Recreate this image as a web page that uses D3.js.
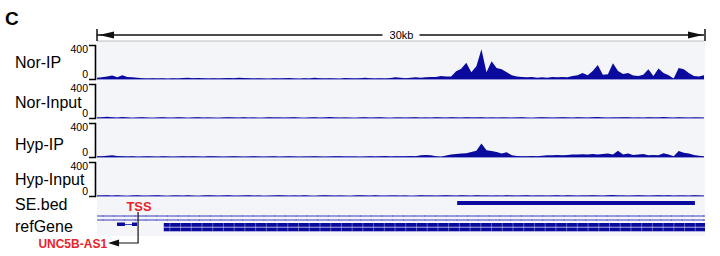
<!DOCTYPE html>
<html>
<head>
<meta charset="utf-8">
<script src="https://cdn.jsdelivr.net/npm/d3@7"></script>
<style>
body { margin: 0; background: #fff; }
text { font-family: Arial, "Liberation Sans", sans-serif; }
</style>
</head>
<body>
<svg width="720" height="256"></svg>
<script>
// region shown, in kb
const regionKb = 30;
const trackNames = ['Nor-IP', 'Nor-Input', 'Hyp-IP', 'Hyp-Input'];
const yTicks = [0, 400];

// coverage, one value per 0.25 kb bin (121 bins)
const norIP = [
  15,20,30,40,20,45,25,20,15,8,
  5,10,5,8,4,10,6,12,15,10,
  12,8,5,10,6,8,12,8,15,12,
  10,6,8,5,4,10,6,8,12,6,
  4,8,6,15,8,5,10,6,4,12,
  8,6,10,15,8,5,8,6,12,20,
  15,10,15,20,15,20,25,25,35,30,
  30,90,120,190,80,150,350,80,210,130,
  115,80,45,30,25,20,25,15,20,15,
  25,20,25,20,35,45,70,45,95,165,
  50,55,185,95,60,70,40,35,50,115,
  35,125,70,45,5,130,115,70,35,30,
  45
];
const norInput = [
  6,8,14,10,4,12,6,0,5,8,
  3,0,6,10,4,2,8,5,0,6,
  9,4,7,3,0,5,10,6,4,8,
  3,6,0,4,9,5,7,2,6,10,
  4,0,5,8,3,6,12,5,2,7,
  4,0,6,9,3,5,8,4,0,6,
  7,3,5,10,4,6,2,8,5,3,
  9,6,4,10,7,5,8,4,6,3,
  7,5,2,6,9,4,0,5,8,6,
  3,7,10,5,4,8,6,3,9,12,
  6,4,7,5,10,8,4,6,3,9,
  7,5,12,6,4,8,5,3,7,6,
  4
];
const hypIP = [
  8,10,15,22,12,10,6,8,4,6,
  10,5,3,8,6,4,7,10,5,8,
  6,4,8,10,6,3,5,8,6,4,
  7,10,5,3,6,8,4,5,9,6,
  4,7,5,8,6,3,5,8,10,6,
  5,7,4,6,9,5,8,12,6,10,
  10,8,12,10,22,25,20,8,4,18,
  28,35,42,45,60,75,160,80,70,60,
  40,55,20,12,10,8,12,10,15,20,
  22,25,20,25,28,30,32,28,35,30,
  35,40,30,75,30,40,25,30,35,20,
  25,20,45,30,10,70,50,40,25,15,
  10
];
const hypInput = [
  5,7,10,4,8,3,0,6,9,4,
  2,6,8,3,0,5,7,4,9,3,
  0,6,8,5,3,7,10,4,2,6,
  8,3,5,0,4,7,9,5,3,6,
  2,8,4,0,6,9,5,3,7,4,
  0,5,8,6,3,9,4,2,7,5,
  3,6,0,4,8,5,7,3,6,10,
  5,3,8,6,4,9,7,5,3,6,
  4,8,5,2,6,9,4,7,5,3,
  6,8,4,10,6,3,7,5,9,6,
  4,8,12,6,5,3,7,9,5,4,
  6,8,5,10,4,7,6,3,8,5,
  4
];
const trackData = [norIP, norInput, hypIP, hypInput];

// super-enhancer interval and refGene features, in kb
const seBed = [[17.8, 29.55]];
const smallExons = [[0.99, 1.38], [1.73, 1.98]];
const bigExons = [[3.3, 30]];
const tssKb = 2.03;
const geneName = 'UNC5B-AS1';

const svg = d3.select('svg');
const x = d3.scaleLinear().domain([0, regionKb]).range([97, 704]);
const blue = '#0a0a9e';

// panel background
svg.append('rect')
    .attr('x', x(0)).attr('y', 41)
    .attr('width', x(regionKb) - x(0) + 1).attr('height', 195)
    .attr('fill', '#f4f5f8');

svg.append('line')
    .attr('x1', x(0)).attr('x2', x(regionKb))
    .attr('y1', 41).attr('y2', 41)
    .attr('stroke', '#bdbdbd');

// panel letter
svg.append('text')
    .attr('x', 5).attr('y', 25)
    .attr('font-size', 19).attr('font-weight', 'bold')
    .text('C');

// scale bar
const sbY = 35;
const sb = svg.append('g').attr('stroke', '#111').attr('stroke-width', 1.5);
sb.append('line').attr('x1', x(0)).attr('x2', x(regionKb / 2) - 18).attr('y1', sbY).attr('y2', sbY);
sb.append('line').attr('x1', x(regionKb / 2) + 19).attr('x2', x(regionKb)).attr('y1', sbY).attr('y2', sbY);
sb.append('line').attr('x1', x(0)).attr('x2', x(0)).attr('y1', sbY - 6).attr('y2', sbY + 6);
sb.append('line').attr('x1', x(regionKb) + 1).attr('x2', x(regionKb) + 1).attr('y1', sbY - 6).attr('y2', sbY + 6);
sb.append('path').attr('stroke', 'none').attr('fill', '#111')
    .attr('d', `M${x(0) + 2},${sbY} l15,-3.5 v7 z`);
sb.append('path').attr('stroke', 'none').attr('fill', '#111')
    .attr('d', `M${x(regionKb) - 1},${sbY} l-15,-3.5 v7 z`);
svg.append('text')
    .attr('x', x(regionKb / 2) + 1).attr('y', sbY + 4)
    .attr('text-anchor', 'middle').attr('font-size', 11)
    .text(regionKb + 'kb');

// coverage tracks
const trackTop = 45, trackH = 34, trackStep = 39;
const labelDy = [23, 24, 27, 23];
const binKb = regionKb / (norIP.length - 1);

trackData.forEach((vals, k) => {
    const top = trackTop + k * trackStep;
    const y = d3.scaleLinear().domain([0, 400]).range([top + trackH, top]);
    const g = svg.append('g');

    g.append('line')
        .attr('x1', x(0)).attr('x2', x(regionKb))
        .attr('y1', y(0)).attr('y2', y(0))
        .attr('stroke', '#3434b8').attr('stroke-width', 1);

    const area = d3.area()
        .x((d, i) => x(i * binKb))
        .y0(y(0))
        .y1(d => y(d));
    g.append('path')
        .attr('d', area(vals))
        .attr('fill', blue);

    const ax = g.append('g')
        .attr('transform', `translate(95,0)`)
        .call(d3.axisLeft(y).tickValues(yTicks).tickSizeInner(0).tickSizeOuter(6).tickPadding(7));
    ax.select('.domain').attr('stroke', '#000').attr('stroke-width', 1.6);
    ax.selectAll('text')
        .attr('font-size', 10.5)
        .attr('font-family', 'Arial, "Liberation Sans", sans-serif')
        .attr('fill', '#000')
        .attr('dy', d => d === 400 ? '0.72em' : '-0.15em');

    svg.append('text')
        .attr('x', 15).attr('y', top + labelDy[k])
        .attr('font-size', 16)
        .text(trackNames[k]);
});

// SE.bed
svg.append('text').attr('x', 15).attr('y', 210).attr('font-size', 16).text('SE.bed');
svg.selectAll('rect.se')
    .data(seBed).enter()
    .append('rect')
        .attr('class', 'se')
        .attr('x', d => x(d[0])).attr('width', d => x(d[1]) - x(d[0]))
        .attr('y', 201).attr('height', 4)
        .attr('fill', blue);

// refGene
svg.append('text').attr('x', 15).attr('y', 232).attr('font-size', 16).text('refGene');
const gene = svg.append('g');
[216, 220].forEach(yy => {
    gene.append('line')
        .attr('x1', x(0)).attr('x2', x(regionKb) + 1)
        .attr('y1', yy).attr('y2', yy)
        .attr('stroke', '#3c3cc4').attr('stroke-width', 1);
    gene.selectAll(null)
        .data(d3.range(0.3, regionKb, 0.53)).enter()
        .append('line')
            .attr('x1', d => x(d)).attr('x2', d => x(d))
            .attr('y1', yy - 1).attr('y2', yy + 1)
            .attr('stroke', '#6a6ad0').attr('stroke-width', 0.8);
});
gene.append('line')
    .attr('x1', x(smallExons[0][1])).attr('x2', x(smallExons[1][0]))
    .attr('y1', 224.5).attr('y2', 224.5)
    .attr('stroke', '#3c3cc4');
gene.selectAll('rect.sx')
    .data(smallExons).enter()
    .append('rect')
        .attr('x', d => x(d[0])).attr('width', d => x(d[1]) - x(d[0]))
        .attr('y', 222.5).attr('height', 3.5)
        .attr('fill', blue);
[223, 227.5].forEach(yy => {
    gene.selectAll(null)
        .data(bigExons).enter()
        .append('rect')
            .attr('x', d => x(d[0])).attr('width', d => x(d[1]) - x(d[0]) + 1)
            .attr('y', yy).attr('height', 3.8)
            .attr('fill', blue);
});
gene.selectAll(null)
    .data(d3.range(3.6, regionKb, 0.53)).enter()
    .append('line')
        .attr('x1', d => x(d)).attr('x2', d => x(d))
        .attr('y1', 223).attr('y2', 231.3)
        .attr('stroke', '#fff').attr('stroke-opacity', 0.45).attr('stroke-width', 0.8);

// TSS annotation
const tx = x(tssKb);
svg.append('text')
    .attr('x', tx + 1).attr('y', 211)
    .attr('text-anchor', 'middle').attr('font-size', 13).attr('font-weight', 'bold')
    .attr('fill', '#e8232a')
    .text('TSS');
svg.append('path')
    .attr('d', `M${tx},212 V243 H${tx - 20}`)
    .attr('fill', 'none').attr('stroke', '#111').attr('stroke-width', 1.2);
svg.append('path')
    .attr('d', `M${tx - 30},243 l11,-3.5 v7 z`)
    .attr('fill', '#111');
svg.append('text')
    .attr('x', tx - 31).attr('y', 248)
    .attr('text-anchor', 'end').attr('font-size', 12).attr('font-weight', 'bold')
    .attr('fill', '#e8232a')
    .text(geneName);
</script>
</body>
</html>
